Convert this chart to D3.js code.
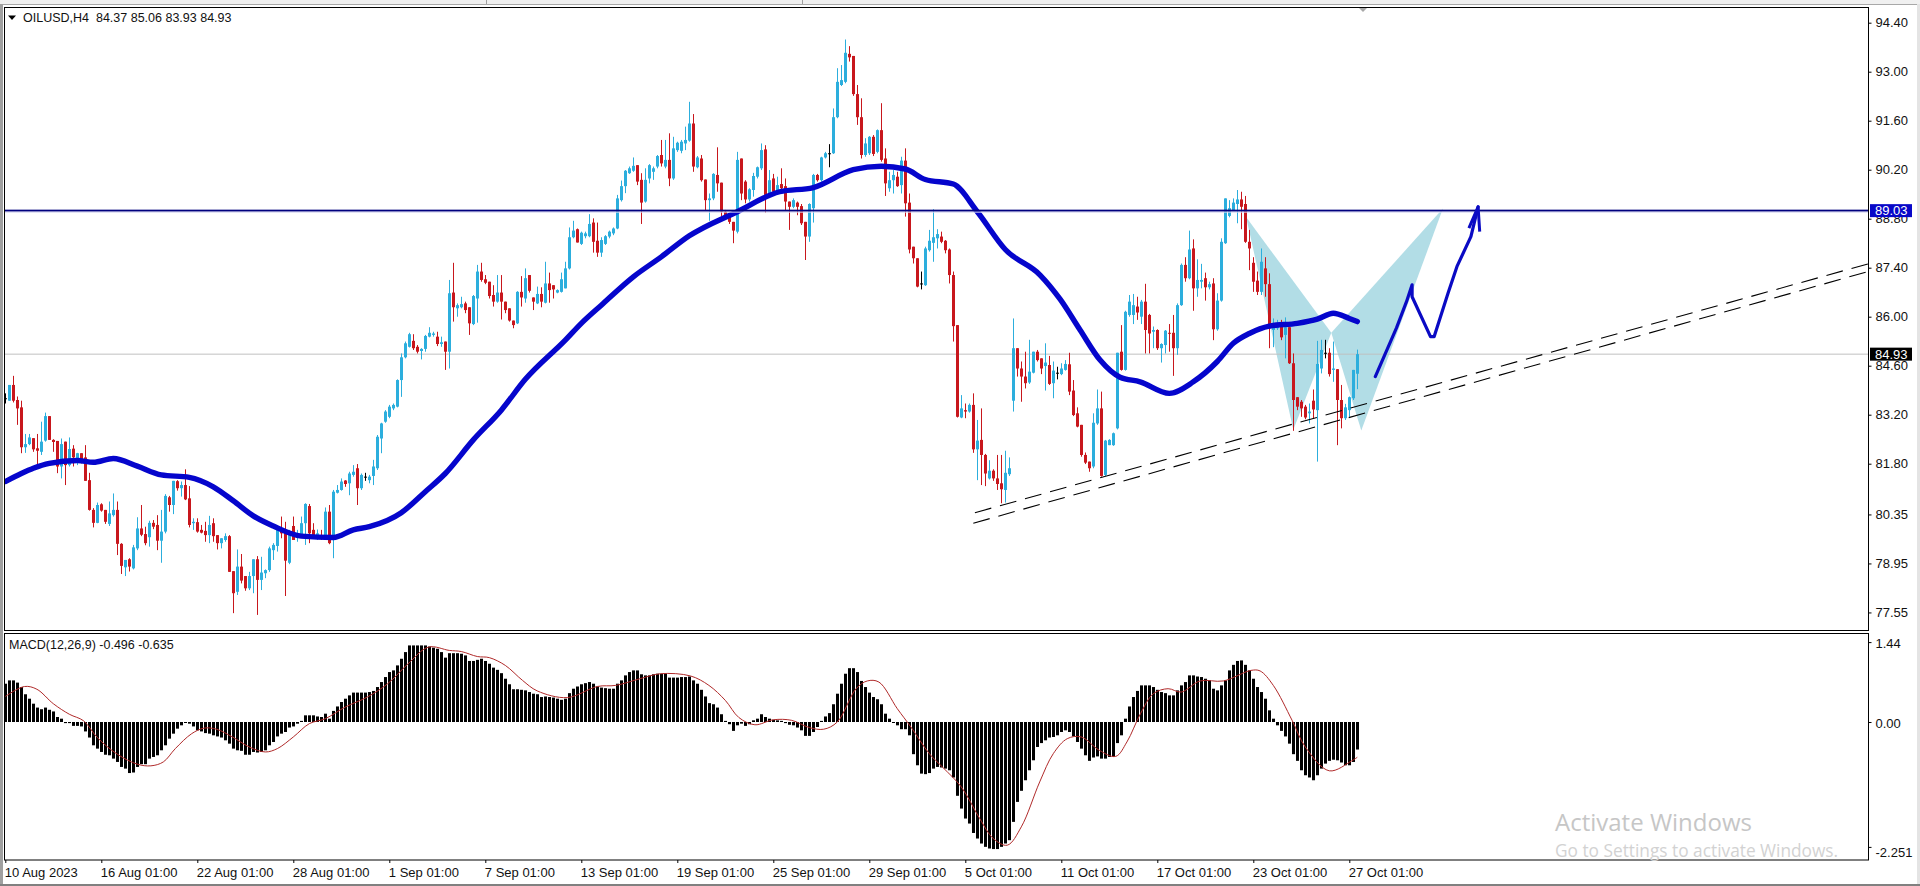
<!DOCTYPE html>
<html><head><meta charset="utf-8">
<style>
html,body{margin:0;padding:0;background:#fff;overflow:hidden}
svg{display:block}
text{font-family:"Liberation Sans",Arial,sans-serif;fill:#111}
</style>
<script src="https://cdn.jsdelivr.net/npm/d3@7"></script>
</head><body><svg id="c" width="1920" height="886"></svg>
<script>
const opens=[83.67,83.60,84.05,83.62,83.41,82.27,82.36,82.53,82.24,82.14,
82.46,83.16,82.48,82.45,81.72,82.43,81.76,82.23,81.89,82.10,
81.98,81.33,80.48,80.11,80.64,80.48,80.08,80.33,80.48,79.51,
78.84,79.07,78.81,79.38,79.95,79.79,79.70,80.11,80.05,79.60,
79.86,80.84,80.62,81.30,81.10,81.19,80.81,80.10,80.13,79.91,
79.88,79.76,80.10,79.76,79.53,79.62,79.73,78.73,78.14,78.86,
78.59,78.24,78.59,79.07,78.48,78.67,78.76,79.33,79.45,79.95,
79.91,78.97,80.02,79.72,79.76,80.10,80.59,79.91,79.67,79.76,
79.76,80.43,79.76,80.97,81.05,81.32,81.24,81.48,81.67,81.10,
81.43,81.33,81.45,81.67,82.52,83.00,83.14,83.38,83.43,84.19,
84.84,85.14,85.31,85.14,85.02,85.08,85.43,85.48,85.43,85.22,
85.29,85.00,86.69,86.24,86.27,86.38,86.27,85.79,86.52,87.29,
87.07,87.00,86.62,86.43,86.69,86.43,86.24,85.89,85.81,86.71,
86.52,87.19,86.55,86.38,86.65,86.40,86.95,86.90,86.69,86.71,
86.81,87.38,88.27,88.50,88.08,88.30,88.30,88.69,88.17,87.83,
88.08,88.29,88.38,88.52,89.33,89.73,90.10,90.17,90.33,89.91,
89.29,89.95,90.14,90.29,90.62,90.29,90.48,89.95,90.76,90.74,
90.95,91.03,91.52,90.27,90.52,89.92,89.33,89.38,90.05,89.83,
89.00,88.86,88.71,88.43,90.52,89.86,89.35,89.62,90.00,90.24,
90.78,89.48,89.95,89.52,89.79,89.73,89.29,89.14,89.26,89.16,
88.71,88.29,89.10,90.05,89.90,90.55,90.67,90.67,91.70,92.62,
92.71,93.51,93.45,92.36,91.70,90.62,90.67,91.14,90.71,91.33,
90.52,89.67,89.90,90.00,89.76,90.46,89.26,88.00,87.67,86.95,
86.90,87.90,88.11,88.24,88.29,88.17,87.92,87.19,85.76,83.12,
83.33,83.29,83.48,82.21,82.48,82.05,81.38,81.60,81.38,81.24,
81.05,81.50,83.60,85.10,84.52,84.29,84.12,84.40,85.00,84.81,
84.59,84.62,84.10,84.40,84.36,84.48,84.64,83.89,83.24,82.91,
82.05,81.86,81.72,82.95,83.38,81.48,82.33,82.33,82.81,85.00,
84.48,86.05,86.05,86.29,86.00,86.43,86.05,85.57,85.62,85.10,
85.19,85.54,85.54,85.10,86.33,87.48,87.10,87.95,86.81,87.00,
87.10,86.84,86.95,85.64,86.46,88.10,88.88,89.05,89.22,89.35,
89.22,88.14,87.54,87.03,86.71,87.38,86.93,85.62,85.67,85.71,
85.48,85.70,84.67,83.70,83.57,83.43,83.24,83.60,83.33,84.52,
84.97,84.97,84.48,84.50,83.62,83.10,83.33,83.67,84.37];
const closes=[83.67,84.05,83.60,83.38,82.27,82.36,82.55,82.21,82.17,82.43,
83.16,82.48,82.42,81.72,82.36,81.76,82.22,81.98,82.10,81.91,
81.31,80.48,80.11,80.62,80.46,80.14,80.38,80.48,79.51,78.88,
79.05,78.86,79.41,79.95,79.77,79.53,80.11,80.00,79.60,79.86,
80.88,80.62,81.31,81.10,81.19,80.78,80.05,80.14,79.86,79.83,
79.76,80.05,79.73,79.53,79.67,79.73,78.71,78.10,78.86,78.46,
78.24,78.59,79.07,78.48,78.69,78.76,79.38,79.48,79.93,79.81,
79.03,79.79,79.62,79.81,80.10,80.65,79.81,79.76,79.81,79.67,
80.43,79.53,81.00,81.05,81.29,81.22,81.52,81.57,81.10,81.48,
81.43,81.43,81.72,82.57,82.95,83.29,83.43,83.48,84.19,84.84,
85.24,85.50,85.10,85.00,85.08,85.45,85.54,85.52,85.22,85.27,
85.00,86.67,86.27,86.33,86.36,86.19,85.81,86.59,87.29,87.05,
86.97,86.59,86.43,86.69,86.43,86.19,85.89,85.76,86.71,86.55,
87.10,86.74,86.43,86.65,86.43,86.95,86.76,86.78,86.76,87.07,
87.38,88.27,88.46,88.12,88.40,88.38,88.65,88.14,87.83,88.19,
88.30,88.43,88.52,89.38,89.73,90.17,90.24,90.31,89.86,89.26,
89.91,90.33,90.24,90.59,90.38,90.48,89.95,90.81,90.97,91.00,
91.05,91.52,90.29,90.55,89.90,89.33,89.38,90.08,89.81,89.00,
88.86,88.71,88.46,90.48,89.52,89.35,89.64,90.02,90.27,90.76,
89.48,89.90,89.57,89.76,89.67,89.29,89.14,89.33,89.14,88.67,
88.29,89.22,90.05,89.90,90.55,90.67,90.67,91.70,92.71,92.76,
93.54,93.41,92.36,91.70,90.62,90.95,91.14,90.65,91.33,90.48,
89.81,89.90,90.05,89.73,90.46,89.24,87.92,87.67,86.86,86.95,
87.95,88.17,88.27,88.36,88.14,87.90,87.19,85.73,83.14,83.38,
83.29,83.48,82.21,82.46,82.05,81.52,81.60,81.38,81.22,81.07,
81.54,81.67,85.10,84.52,84.29,84.10,84.43,85.00,84.76,84.52,
84.69,84.08,84.46,84.40,84.52,84.65,83.86,83.19,82.86,82.05,
81.83,81.67,82.97,83.38,81.45,82.46,82.48,82.67,84.97,84.48,
86.14,86.43,86.33,86.12,86.43,85.62,85.52,85.62,85.10,85.22,
85.60,85.52,85.10,86.33,87.48,87.10,87.92,86.81,87.05,87.05,
86.84,86.93,85.64,86.46,88.14,89.38,89.10,89.26,89.35,89.14,
88.14,87.95,87.00,86.71,87.57,86.93,85.71,85.71,85.73,85.41,
85.70,84.67,83.62,83.43,83.38,83.12,83.29,83.35,84.65,85.05,
84.97,84.36,84.52,83.62,83.10,83.41,83.70,84.48,84.93];
const highs=[83.81,84.05,84.31,83.72,83.60,82.65,82.65,82.53,82.65,83.00,
83.26,83.16,82.50,82.45,82.52,82.43,82.55,82.33,82.11,82.10,
82.33,81.54,80.53,80.69,80.67,80.48,80.72,80.95,80.72,79.53,
79.05,79.10,79.48,80.27,80.62,80.00,80.17,80.19,80.33,80.48,
80.93,80.88,81.31,81.33,81.29,81.64,81.16,80.24,80.24,80.05,
80.14,80.31,80.24,79.76,79.67,79.81,79.76,78.73,79.35,79.22,
78.59,78.71,79.07,79.16,79.14,78.78,79.43,79.53,80.00,80.29,
80.14,79.91,80.29,79.91,80.29,80.67,80.65,80.10,79.92,79.91,
80.55,80.62,81.05,81.19,81.38,81.33,81.57,81.76,81.79,81.52,
81.54,81.48,81.91,82.62,82.97,83.33,83.48,83.52,84.21,84.95,
85.29,85.54,85.50,85.19,85.10,85.48,85.70,85.57,85.57,85.43,
85.29,87.05,87.54,86.38,86.57,86.43,86.27,86.62,87.48,87.54,
87.19,87.00,86.90,87.19,87.19,86.43,86.24,85.89,86.73,87.16,
87.38,87.19,86.55,86.86,86.84,87.57,87.26,86.90,86.78,87.26,
87.57,88.55,88.74,88.52,88.43,88.43,88.93,88.81,88.69,88.27,
88.33,88.46,88.55,89.48,89.89,90.19,90.29,90.55,90.33,90.10,
90.24,90.36,90.29,90.62,91.05,91.05,91.24,91.14,91.00,91.05,
91.43,92.14,91.79,90.59,90.62,89.92,89.52,90.10,90.84,89.83,
89.05,88.90,88.71,90.71,90.52,89.90,89.67,90.11,90.29,90.95,
90.90,90.19,90.08,90.00,90.24,89.95,89.29,89.38,89.29,89.22,
88.71,89.24,90.08,90.08,90.57,90.71,90.93,91.95,93.10,93.19,
93.92,93.73,93.45,92.62,92.24,91.10,91.16,91.19,91.35,92.10,
90.81,90.14,90.19,90.14,90.57,90.81,89.52,88.00,87.67,87.29,
88.00,88.48,89.07,88.50,88.43,88.19,87.95,87.29,85.76,83.76,
83.52,83.52,83.81,83.05,83.38,82.08,81.90,81.64,82.05,82.05,
82.17,81.98,85.95,85.10,84.72,85.00,85.34,85.00,85.05,84.81,
85.24,84.88,84.72,84.57,84.67,84.76,84.97,84.19,83.41,82.91,
82.12,81.86,83.24,83.92,83.86,82.48,82.50,82.69,84.97,85.76,
86.17,86.62,86.65,86.57,86.48,86.94,86.08,85.72,85.64,85.24,
85.62,85.79,86.05,86.38,87.52,87.70,88.46,88.21,87.64,87.51,
87.26,87.00,87.10,86.67,88.24,89.38,89.33,89.38,89.62,89.57,
89.45,88.48,87.70,87.29,87.95,87.70,87.24,85.95,85.91,85.91,
85.98,85.70,84.95,83.70,83.62,83.48,83.52,83.92,85.31,85.34,
85.34,85.10,85.29,84.50,84.05,83.51,83.72,84.48,85.06];
const lows=[83.52,83.60,83.55,82.91,82.10,82.11,82.33,82.14,81.79,82.05,
82.43,82.48,82.14,81.53,81.38,81.19,81.72,81.72,81.76,81.81,
81.31,80.46,79.98,80.10,80.43,80.08,80.02,80.29,79.19,78.65,
78.59,78.72,78.78,79.33,79.73,79.47,79.43,79.93,79.33,78.97,
79.81,80.43,80.36,81.03,80.86,80.76,79.98,79.91,79.83,79.81,
79.57,79.53,79.57,79.35,79.38,79.57,78.71,77.53,78.05,78.38,
78.17,78.19,78.10,77.48,78.19,78.53,78.71,79.05,79.29,79.67,
78.02,78.93,79.62,79.57,79.72,79.48,79.53,79.72,79.62,79.62,
79.72,79.50,79.10,80.95,81.03,81.14,80.90,81.43,80.62,81.05,
81.31,81.24,81.19,81.62,82.10,82.97,83.10,83.33,83.41,83.71,
84.81,85.12,85.05,84.95,84.78,85.00,85.41,85.43,85.16,85.14,
84.48,84.52,85.86,86.00,86.24,86.10,85.48,85.76,85.83,87.00,
86.93,86.52,86.29,86.40,85.92,86.10,85.86,85.67,85.79,86.29,
86.40,86.69,86.19,86.36,86.27,86.38,86.40,86.52,86.67,86.69,
86.81,87.35,88.24,88.12,88.05,88.24,88.27,87.83,87.71,87.71,
88.05,88.24,88.33,88.50,89.29,89.53,90.08,90.14,89.76,88.65,
89.26,89.81,89.91,90.24,90.29,90.24,89.73,89.91,90.71,90.67,
90.76,91.00,90.14,90.24,89.86,89.05,88.74,89.33,89.57,88.86,
88.81,88.65,88.10,88.38,89.33,89.24,89.29,89.43,89.95,90.19,
88.97,89.43,89.52,89.48,89.57,89.05,88.48,89.10,88.90,88.62,
87.62,88.14,88.69,89.86,89.86,90.52,90.27,90.65,91.67,92.59,
92.67,93.29,92.31,91.48,90.52,90.57,90.62,90.59,90.67,90.43,
89.45,89.57,89.52,89.71,89.52,88.86,87.81,87.52,86.84,86.78,
86.88,87.86,87.57,87.95,88.10,87.81,86.95,85.29,83.12,83.10,
83.10,83.26,82.11,81.33,81.19,81.16,81.35,81.31,81.05,80.67,
80.69,81.45,83.29,84.29,83.57,83.95,84.08,84.38,84.72,84.36,
83.89,84.05,83.67,84.21,84.33,84.46,83.76,83.16,82.84,82.00,
81.79,81.57,81.67,82.91,81.43,81.45,82.33,82.31,82.78,84.46,
84.46,86.00,85.79,85.91,85.79,84.95,84.95,85.10,85.05,84.69,
84.95,85.00,84.31,84.91,86.31,87.00,87.07,86.17,86.57,86.81,
86.46,86.78,85.33,85.60,86.43,88.08,88.84,89.03,88.67,88.50,
88.11,87.33,86.71,86.62,86.62,86.57,85.10,85.13,85.62,85.33,
84.81,84.65,82.74,83.33,83.14,83.07,82.95,83.10,81.86,84.38,
84.81,84.29,84.14,82.33,82.81,83.05,83.14,83.62,83.93];
const maIndex=[0,4,7,11,18,22,27,33,39,46,52,57,62,67,74,82,87,91,99,105,110,117,124,130,140,144,149,157,164,171,183,193.6,202,212,219,225,230,237,243,250,258.7,263.7,268.7,273.7,278.7,283.7,291,297,303,307,311,316,323,328,332,336,338];
const maValues=[81.29,81.52,81.67,81.81,81.89,81.84,81.95,81.73,81.48,81.41,81.14,80.74,80.31,80.02,79.73,79.69,79.91,80.00,80.40,81.00,81.52,82.48,83.33,84.21,85.33,85.81,86.33,87.14,87.71,88.31,89.00,89.57,89.69,90.20,90.30,90.22,89.92,89.79,89.00,87.92,87.19,86.50,85.62,84.76,84.27,84.14,83.81,84.14,84.72,85.24,85.52,85.73,85.81,85.93,86.10,85.95,85.86];
const macdHist=[0.69,0.75,0.75,0.71,0.63,0.50,0.42,0.33,0.26,0.23,
0.26,0.22,0.19,0.09,0.06,-0.02,-0.02,-0.07,-0.07,-0.08,
-0.17,-0.28,-0.42,-0.48,-0.54,-0.59,-0.60,-0.66,-0.72,-0.81,
-0.84,-0.92,-0.91,-0.81,-0.76,-0.76,-0.66,-0.63,-0.60,-0.51,
-0.42,-0.30,-0.21,-0.12,-0.06,-0.01,-0.03,-0.08,-0.15,-0.17,
-0.20,-0.21,-0.24,-0.26,-0.28,-0.33,-0.39,-0.48,-0.51,-0.52,
-0.59,-0.59,-0.54,-0.55,-0.54,-0.51,-0.42,-0.36,-0.26,-0.21,
-0.18,-0.10,-0.08,-0.03,0.02,0.12,0.12,0.12,0.10,0.09,
0.15,0.06,0.20,0.28,0.36,0.42,0.48,0.53,0.53,0.53,
0.53,0.54,0.56,0.63,0.72,0.81,0.90,0.93,1.02,1.14,
1.26,1.38,1.38,1.38,1.38,1.38,1.36,1.34,1.32,1.26,
1.16,1.24,1.24,1.24,1.23,1.20,1.10,1.10,1.12,1.14,
1.10,1.05,0.98,0.94,0.88,0.78,0.68,0.59,0.59,0.58,
0.57,0.54,0.51,0.50,0.45,0.46,0.45,0.44,0.42,0.40,
0.42,0.52,0.60,0.64,0.68,0.70,0.72,0.69,0.64,0.62,
0.61,0.60,0.60,0.69,0.75,0.84,0.90,0.93,0.93,0.86,
0.84,0.84,0.86,0.87,0.87,0.87,0.80,0.80,0.80,0.81,
0.81,0.82,0.75,0.69,0.58,0.46,0.34,0.32,0.26,0.14,
0.02,-0.04,-0.16,-0.06,-0.03,-0.07,-0.04,0.03,0.06,0.14,
0.09,0.06,0.04,0.03,0.02,-0.02,-0.05,-0.06,-0.10,-0.15,
-0.25,-0.25,-0.18,-0.09,0.02,0.10,0.16,0.32,0.51,0.69,
0.87,0.97,0.97,0.90,0.74,0.63,0.53,0.45,0.41,0.32,
0.15,0.06,-0.01,-0.06,-0.13,-0.13,-0.24,-0.58,-0.78,-0.93,
-0.94,-0.92,-0.84,-0.81,-0.82,-0.84,-0.87,-1.00,-1.33,-1.56,
-1.74,-1.83,-2.00,-2.10,-2.19,-2.25,-2.28,-2.29,-2.29,-2.25,
-2.19,-2.13,-1.80,-1.44,-1.24,-1.05,-0.87,-0.69,-0.45,-0.38,
-0.33,-0.28,-0.27,-0.24,-0.18,-0.15,-0.18,-0.26,-0.36,-0.48,
-0.60,-0.70,-0.64,-0.62,-0.66,-0.66,-0.63,-0.63,-0.38,-0.24,
0.06,0.28,0.45,0.56,0.66,0.66,0.66,0.63,0.58,0.54,
0.52,0.48,0.48,0.57,0.66,0.72,0.84,0.84,0.82,0.81,
0.78,0.75,0.60,0.57,0.66,0.75,0.93,1.03,1.10,1.11,
1.03,0.93,0.78,0.63,0.54,0.42,0.21,0.06,-0.06,-0.16,
-0.26,-0.39,-0.58,-0.70,-0.87,-0.96,-1.00,-1.05,-0.96,-0.84,
-0.75,-0.70,-0.68,-0.69,-0.73,-0.78,-0.78,-0.72,-0.496];
const sigIndex=[0,4.8,7.9,12,16,19.6,23,28,33,36.4,39.5,42.5,46.6,49.7,52.8,56.8,61,65,68,72,76,80,85,90.5,95.6,100.7,105.8,111,114,118,121,125,129.3,133,140.5,148,152.6,158.7,163.8,171.3,175.9,180,183.4,187.4,192,196.6,201,204.6,208,212.7,215.5,218.4,223,226.4,231,234.4,239,243.6,247,250.5,254,258.6,262,265.5,269,273.5,277.6,280.4,283.8,287,290.7,294,298.7,304.5,311.4,313.7,317,321.7,325,331,336.6,338];
const sigValues=[0.46,0.64,0.59,0.33,0.14,0.02,-0.28,-0.58,-0.76,-0.79,-0.72,-0.48,-0.21,-0.11,-0.13,-0.27,-0.45,-0.54,-0.48,-0.27,-0.03,0.06,0.27,0.45,0.69,1.05,1.35,1.29,1.27,1.18,1.16,1.02,0.75,0.56,0.44,0.64,0.66,0.78,0.87,0.83,0.66,0.39,0.08,-0.05,0.04,0.03,-0.10,-0.13,0,0.60,0.74,0.72,0.24,-0.09,-0.57,-0.82,-1.17,-1.74,-2.10,-2.22,-1.89,-1.08,-0.57,-0.30,-0.27,-0.51,-0.62,-0.36,0.15,0.51,0.60,0.54,0.74,0.74,0.93,0.92,0.66,0.03,-0.45,-0.88,-0.70,-0.635];
const priceTicks=[94.40,93.00,91.60,90.20,88.80,87.40,86.00,84.60,83.20,81.80,80.35,78.95,77.55];
const macdTicks=[1.44,0,-2.251];
const timeTickIndex=[0,24,48,72,96,120,144,168,192,216,240,264,288,312,336];
const timeTickLabels=["10 Aug 2023","16 Aug 01:00","22 Aug 01:00","28 Aug 01:00","1 Sep 01:00","7 Sep 01:00","13 Sep 01:00","19 Sep 01:00","25 Sep 01:00","29 Sep 01:00","5 Oct 01:00","11 Oct 01:00","17 Oct 01:00","23 Oct 01:00","27 Oct 01:00"];
const levelPrice=89.03, lastPrice=84.93;
const trendUpperIndex=[242.4,465.7], trendUpperPrice=[80.40,87.51];
const trendLowerIndex=[242,465.7], trendLowerPrice=[80.10,87.29];
const harmonicIndex=[310.2,322,331.5,339,359.4], harmonicPrice=[88.85,82.77,85.54,82.75,89.09];
const sketchIndex=[342.5,347.8,350.3,351.7,351.7,356.3,357.2,360.7,362.9,366.4,368.2];
const sketchPrice=[84.29,85.68,86.43,86.91,86.57,85.43,85.43,86.68,87.43,88.29,89.14];
const arrowIndex=[365.9,368.2,368.6], arrowPrice=[88.53,89.14,88.43];
const titleText="OILUSD,H4  84.37 85.06 83.93 84.93";
const macdText="MACD(12,26,9) -0.496 -0.635";

const L=4,R=1868,MT=8,MB=631,ST=633.5,SB=860;
const svg=d3.select("#c");
const x=d3.scaleLinear().domain([0,338]).range([5.3,1357.3]);
const y=d3.scaleLinear().domain([86,84.6]).range([316.7,365.7]);
const ym=d3.scaleLinear().domain([0,1.44]).range([722,642.1]);
const defs=svg.append("defs");
defs.append("clipPath").attr("id","mc").append("rect").attr("x",L).attr("y",MT).attr("width",R-L).attr("height",MB-MT);
const px=i=>Math.round(x(i)-0.5);

// window frame
svg.append("rect").attr("width",1920).attr("height",886).attr("fill","#fff");
svg.append("rect").attr("width",1920).attr("height",4).attr("fill","#f0f0f0");
svg.append("rect").attr("y",4).attr("width",1920).attr("height",1).attr("fill","#a8a8a8");
[486,802].forEach(v=>svg.append("rect").attr("x",v).attr("y",0).attr("width",1).attr("height",4).attr("fill","#a0a0a0"));
svg.append("rect").attr("x",0).attr("y",4).attr("width",3).attr("height",882).attr("fill","#a0a0a0");
svg.append("rect").attr("x",1917).attr("y",4).attr("width",3).attr("height",882).attr("fill","#e4e4e4");
svg.append("rect").attr("y",884).attr("width",1920).attr("height",2).attr("fill","#808080");

const main=svg.append("g").attr("clip-path","url(#mc)");
// harmonic pattern and last-price line (behind candles)
const hp=i=>[x(harmonicIndex[i]),y(harmonicPrice[i])];
main.append("polygon").attr("points",[hp(0),hp(1),hp(2)].join(" ")).attr("fill","#b2dde6");
main.append("polygon").attr("points",[hp(2),hp(3),hp(4)].join(" ")).attr("fill","#b2dde6");
main.append("line").attr("x1",L).attr("x2",R).attr("y1",y(lastPrice)).attr("y2",y(lastPrice)).attr("stroke","#c0c0c0");

// candles
const bars=d3.range(opens.length);
const col=i=>closes[i]>opens[i]?"#2caedd":closes[i]<opens[i]?"#c8171d":"#000";
main.append("g").selectAll("rect").data(bars).join("rect")
 .attr("x",i=>px(i)).attr("width",1).attr("y",i=>y(highs[i])).attr("height",i=>Math.max(1,y(lows[i])-y(highs[i]))).attr("fill",col);
main.append("g").selectAll("rect").data(bars).join("rect")
 .attr("x",i=>px(i)-1).attr("width",3)
 .attr("y",i=>y(Math.max(opens[i],closes[i])))
 .attr("height",i=>Math.max(1,Math.abs(y(opens[i])-y(closes[i])))).attr("fill",col);

// moving average
main.append("path").datum(maIndex).attr("fill","none").attr("stroke","#0505cc").attr("stroke-width",5.4).attr("stroke-linecap","round")
 .attr("d",d3.line().x(i=>x(i)).y((i,k)=>y(maValues[k])).curve(d3.curveMonotoneX));

// level line
main.append("rect").attr("x",L).attr("width",R-L).attr("y",y(levelPrice)-1).attr("height",2).attr("fill","#00007e");
main.append("rect").attr("x",L).attr("width",R-L).attr("y",y(levelPrice)+1).attr("height",1).attr("fill","#d4d4f0");

// trend lines
[[trendUpperIndex,trendUpperPrice],[trendLowerIndex,trendLowerPrice]].forEach(([a,b])=>{
 main.append("line").attr("x1",x(a[0])).attr("x2",x(a[1])).attr("y1",y(b[0])).attr("y2",y(b[1]))
  .attr("stroke","#000").attr("stroke-width",1.1).attr("stroke-dasharray","17 9");
});
// hand sketch
main.append("path").datum(sketchIndex).attr("fill","none").attr("stroke","#0a0ac4").attr("stroke-width",3.2).attr("stroke-linejoin","round").attr("stroke-linecap","round")
 .attr("d",d3.line().x(i=>x(i)).y((i,k)=>y(sketchPrice[k])));
main.append("path").datum(arrowIndex).attr("fill","none").attr("stroke","#0a0ac4").attr("stroke-width",3).attr("stroke-linejoin","round")
 .attr("d",d3.line().x(i=>x(i)).y((i,k)=>y(arrowPrice[k])));

// MACD
const sub=svg.append("g");
sub.append("g").selectAll("rect").data(macdHist).join("rect")
 .attr("x",(d,i)=>px(i)-1).attr("width",3)
 .attr("y",d=>Math.min(ym(d),ym(0))).attr("height",d=>Math.max(1,Math.abs(ym(d)-ym(0)))).attr("fill","#000");
sub.append("path").datum(sigIndex).attr("fill","none").attr("stroke","#b02a2a").attr("stroke-width",1)
 .attr("d",d3.line().x(i=>x(i)).y((i,k)=>ym(sigValues[k])).curve(d3.curveCatmullRom.alpha(0.5)));

// frames
const fr=(a,b)=>svg.append("rect").attr("x",L+.5).attr("y",a).attr("width",R-L).attr("height",b-a).attr("fill","none").attr("stroke","#000");
fr(MT-.5,MB-.5); fr(ST,SB);

// axes
const fs="13px";
const pa=svg.append("g").attr("transform",`translate(${R+.5},0)`)
 .call(d3.axisRight(y).tickValues(priceTicks).tickFormat(d3.format(".2f")).tickSize(3).tickPadding(4));
pa.select(".domain").remove();
const ma=svg.append("g").attr("transform",`translate(${R+.5},0)`)
 .call(d3.axisRight(ym).tickValues(macdTicks).tickFormat(d=>d===-2.251?"-2.251":d3.format(".2f")(d)).tickSize(3).tickPadding(4));
ma.select(".domain").remove();
ma.selectAll("g.tick text").attr("dy",d=>d===-2.251?"0.72em":"0.4em");
const ta=svg.append("g").attr("transform",`translate(0,${SB})`)
 .call(d3.axisBottom(x).tickValues(timeTickIndex).tickFormat((d,i)=>timeTickLabels[i]).tickSize(3).tickPadding(5));
ta.select(".domain").remove();
ta.selectAll("text").attr("text-anchor","start").attr("dx","-1");
[pa,ma,ta].forEach(g=>{g.attr("font-family",null).attr("font-size",null);g.selectAll("text").style("font-size",fs).style("fill","#111");g.selectAll("line").attr("stroke","#000");});

// price tags
const tag=(p,bg)=>{
 svg.append("rect").attr("x",1870).attr("y",y(p)-6.5).attr("width",42).attr("height",13).attr("fill",bg);
 svg.append("text").attr("x",1875).attr("y",y(p)).attr("dy","0.35em").style("font-size",fs).style("fill","#fff").text(p.toFixed(2));
};
tag(levelPrice,"#0808c8"); tag(lastPrice,"#000");

// labels
svg.append("path").attr("d","M8,15.5L16,15.5L12,20Z").attr("fill","#000");
svg.append("text").attr("x",23).attr("y",21.5).style("font-size","12.5px").attr("xml:space","preserve").style("white-space","pre").text(titleText);
svg.append("text").attr("x",9).attr("y",649).style("font-size","12.5px").text(macdText);
svg.append("path").attr("d","M1359,8L1367,8L1363,12Z").attr("fill","#a8a8a8");

// watermark
svg.append("text").attr("x",1555).attr("y",831).style("font-family","Open Sans").style("font-size","24px").style("fill","#c6c6c6").text("Activate Windows");
svg.append("text").attr("x",1555).attr("y",857).style("font-family","Open Sans").style("font-size","17.3px").style("fill","#d2d2d2").text("Go to Settings to activate Windows.");
</script></body></html>
